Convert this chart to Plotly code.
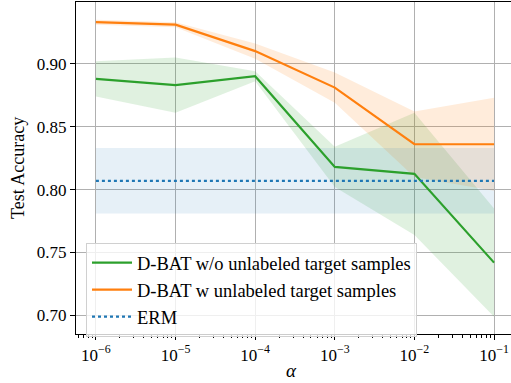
import plotly.graph_objects as go

# ---- data ----
alpha = [1e-6, 1e-5, 1e-4, 1e-3, 1e-2, 1e-1]
wo_mean = [0.888, 0.883, 0.890, 0.818, 0.8125, 0.742]
wo_std = [0.014, 0.022, 0.004, 0.016, 0.0485, 0.043]
w_mean = [0.933, 0.931, 0.910, 0.881, 0.836, 0.836]
w_std = [0.002, 0.002, 0.006, 0.012, 0.026, 0.037]
erm_mean = [0.807] * 6
erm_std = [0.026] * 6
x_tickvals = [1e-6, 1e-5, 1e-4, 1e-3, 1e-2, 1e-1]
x_ticktext = ["10<sup>−6</sup>", "10<sup>−5</sup>", "10<sup>−4</sup>",
              "10<sup>−3</sup>", "10<sup>−2</sup>", "10<sup>−1</sup>"]
x_minor = [k * 10.0 ** e for e in range(-7, 0) for k in range(2, 10)]
y_tickvals = [0.70, 0.75, 0.80, 0.85, 0.90]
y_ticktext = ["0.70", "0.75", "0.80", "0.85", "0.90"]
names = ["D-BAT w/o unlabeled target samples",
         "D-BAT w unlabeled target samples", "ERM"]
x_title = "<i>α</i>"
y_title = "Test Accuracy"

GREEN = "#2ca02c"
ORANGE = "#ff7f0e"
BLUE = "#1f77b4"
FONT = "Liberation Serif"

W, H = 511, 383
L, R, T, B = 76, 0, 2, 49
PW, PH = W - L - R, H - T - B

fig = go.Figure()


def band(mean, std, fillcolor):
    up = [m + s for m, s in zip(mean, std)]
    lo = [m - s for m, s in zip(mean, std)]
    fig.add_trace(go.Scatter(
        x=alpha + alpha[::-1], y=up + lo[::-1], fill="toself",
        fillcolor=fillcolor, line=dict(width=0), mode="lines",
        hoverinfo="skip", showlegend=False))


band(wo_mean, wo_std, "rgba(44,160,44,0.15)")
band(w_mean, w_std, "rgba(255,127,14,0.15)")
band(erm_mean, erm_std, "rgba(31,119,180,0.11)")

fig.add_trace(go.Scatter(x=alpha, y=wo_mean, mode="lines", name=names[0],
                         line=dict(color=GREEN, width=2.2)))
fig.add_trace(go.Scatter(x=alpha, y=w_mean, mode="lines", name=names[1],
                         line=dict(color=ORANGE, width=2.2)))
fig.add_trace(go.Scatter(x=alpha, y=erm_mean, mode="lines", name=names[2],
                         line=dict(color=BLUE, width=2.2, dash="dot")))

fig.update_layout(
    width=W, height=H,
    margin=dict(l=L, r=R, t=T, b=B),
    plot_bgcolor="white", paper_bgcolor="white",
    font=dict(family=FONT, size=17, color="black"),
    showlegend=True,
    legend=dict(x=(86 - L) / PW, y=(H - B - 243) / PH, xanchor="left", yanchor="top",
                bgcolor="rgba(255,255,255,0.8)", bordercolor="#d0d0d0",
                borderwidth=1, font=dict(family=FONT, size=18.5),
                itemwidth=40, tracegroupgap=0),
    xaxis=dict(type="log", range=[-6.25, -0.787], automargin=False,
               tickvals=x_tickvals, ticktext=x_ticktext,
               showgrid=True, gridcolor="#b0b0b0", gridwidth=1.3,
               showline=True, linecolor="black", linewidth=1.2, mirror=True,
               ticks="outside", ticklen=5, tickcolor="black", tickwidth=1.2,
               minor=dict(tickvals=x_minor, ticks="outside", ticklen=3,
                          tickcolor="black", tickwidth=1, showgrid=False),
               zeroline=False),
    yaxis=dict(range=[0.6853, 0.949], automargin=False,
               tickvals=y_tickvals, ticktext=y_ticktext,
               showgrid=True, gridcolor="#b0b0b0", gridwidth=1.3,
               showline=True, linecolor="black", linewidth=1.2,
               ticks="outside", ticklen=5, tickcolor="black", tickwidth=1.2,
               zeroline=False),
    annotations=[
        dict(text=x_title, xref="paper", yref="paper",
             x=(291 - L) / PW, y=(H - B - 370) / PH,
             xanchor="center", yanchor="middle", showarrow=False,
             font=dict(size=19)),
        dict(text=y_title, xref="paper", yref="paper",
             x=(18 - L) / PW, y=0.5, textangle=-90,
             xanchor="center", yanchor="middle", showarrow=False,
             font=dict(size=18)),
    ],
)

fig.write_html("out.html", config={"displayModeBar": False},
               post_script="document.body.style.margin='0';")
